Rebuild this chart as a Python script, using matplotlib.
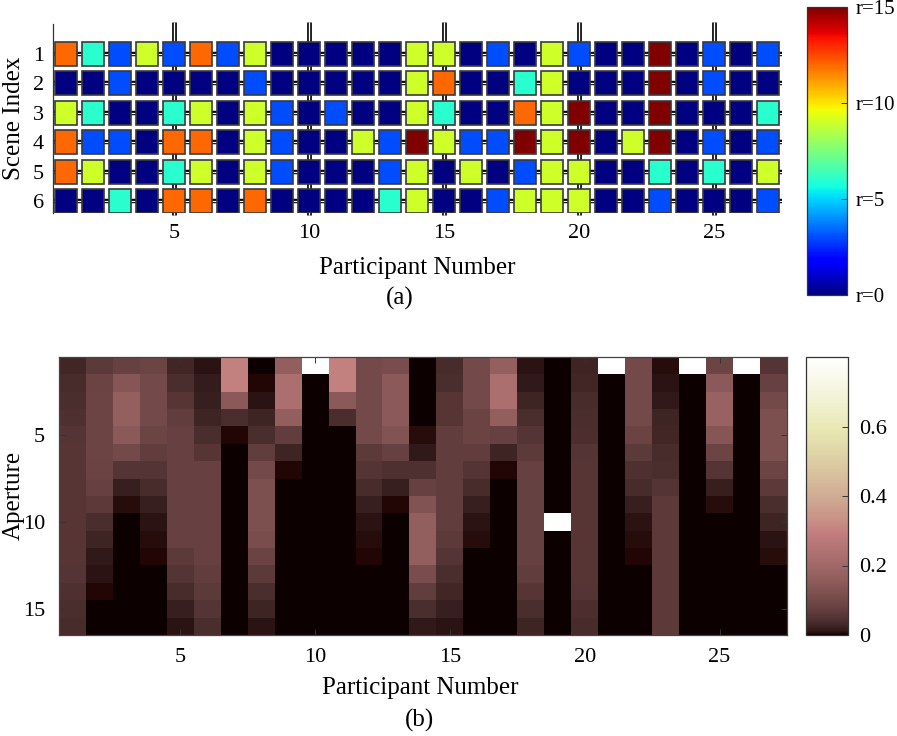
import matplotlib
matplotlib.use('Agg')
import matplotlib.pyplot as plt
import numpy as np
from matplotlib.patches import Rectangle
from matplotlib.colors import Normalize, ListedColormap
from matplotlib.cm import ScalarMappable

plt.rcParams['font.family'] = ['Liberation Serif', 'DejaVu Serif']

# ---------------- data ----------------
participants = list(range(1, 28))
scenes = [1, 2, 3, 4, 5, 6]
scene_r = [
    [12, 6, 3, 9, 3, 12, 3, 9, 0, 0, 0, 0, 0, 9, 9, 0, 3, 0, 9, 3, 0, 0, 15, 0, 3, 0, 3],
    [0, 0, 3, 0, 0, 0, 0, 3, 0, 0, 0, 0, 0, 9, 12, 0, 0, 6, 9, 0, 0, 0, 15, 0, 3, 0, 0],
    [9, 6, 0, 0, 6, 9, 0, 9, 3, 0, 3, 0, 0, 9, 6, 0, 0, 12, 9, 15, 0, 0, 15, 0, 0, 0, 6],
    [12, 3, 3, 0, 12, 12, 0, 9, 3, 0, 0, 9, 3, 15, 9, 3, 3, 15, 9, 15, 0, 9, 15, 0, 3, 0, 3],
    [12, 9, 0, 0, 6, 9, 0, 9, 3, 0, 0, 0, 3, 9, 0, 9, 0, 3, 9, 9, 0, 0, 6, 0, 6, 0, 9],
    [0, 0, 6, 0, 12, 12, 0, 12, 0, 0, 0, 0, 6, 9, 0, 0, 3, 9, 9, 9, 0, 0, 3, 0, 0, 0, 3],
]
r_ticks = [0, 5, 10, 15]
r_tick_labels = ['r=0', 'r=5', 'r=10', 'r=15']

apertures = list(range(1, 17))
Wt = 0.85  # saturated (white) cells
# one list per participant, aperture 1..16
aperture_by_participant = [
    [0.03, 0.035, 0.04, 0.045, 0.05, 0.055, 0.055, 0.055, 0.055, 0.055, 0.055, 0.055, 0.05, 0.045, 0.04, 0.035],
    [0.065, 0.085, 0.09, 0.09, 0.09, 0.09, 0.085, 0.08, 0.065, 0.04, 0.025, 0.015, 0.01, 0.005, 0, 0],
    [0.08, 0.14, 0.17, 0.17, 0.15, 0.10, 0.05, 0.02, 0.008, 0, 0, 0, 0, 0, 0, 0],
    [0.09, 0.10, 0.10, 0.10, 0.09, 0.07, 0.05, 0.035, 0.02, 0.012, 0.008, 0.005, 0, 0, 0, 0],
    [0.03, 0.04, 0.055, 0.07, 0.08, 0.08, 0.08, 0.08, 0.08, 0.08, 0.08, 0.065, 0.05, 0.035, 0.02, 0.012],
    [0.012, 0.016, 0.02, 0.028, 0.04, 0.055, 0.08, 0.08, 0.08, 0.08, 0.08, 0.08, 0.07, 0.065, 0.05, 0.04],
    [0.30, 0.30, 0.15, 0.04, 0.005, 0, 0, 0, 0, 0, 0, 0, 0, 0, 0, 0],
    [0, 0.005, 0.012, 0.025, 0.04, 0.07, 0.10, 0.12, 0.12, 0.12, 0.11, 0.085, 0.065, 0.04, 0.025, 0.01],
    [0.165, 0.23, 0.23, 0.165, 0.07, 0.025, 0.005, 0, 0, 0, 0, 0, 0, 0, 0, 0],
    [Wt, 0, 0, 0, 0, 0, 0, 0, 0, 0, 0, 0, 0, 0, 0, 0],
    [0.30, 0.30, 0.15, 0.04, 0.003, 0, 0, 0, 0, 0, 0, 0, 0, 0, 0, 0],
    [0.10, 0.10, 0.10, 0.10, 0.10, 0.065, 0.05, 0.035, 0.02, 0.012, 0.008, 0.005, 0, 0, 0, 0],
    [0.11, 0.15, 0.15, 0.15, 0.13, 0.08, 0.045, 0.02, 0.005, 0, 0, 0, 0, 0, 0, 0],
    [0, 0, 0, 0, 0.008, 0.015, 0.045, 0.08, 0.13, 0.165, 0.165, 0.165, 0.11, 0.07, 0.04, 0.015],
    [0.035, 0.04, 0.055, 0.055, 0.07, 0.07, 0.07, 0.07, 0.07, 0.07, 0.065, 0.05, 0.04, 0.03, 0.02, 0.012],
    [0.10, 0.10, 0.10, 0.085, 0.085, 0.07, 0.05, 0.035, 0.02, 0.012, 0.008, 0, 0, 0, 0, 0],
    [0.17, 0.23, 0.23, 0.165, 0.08, 0.025, 0.005, 0, 0, 0, 0, 0, 0, 0, 0, 0],
    [0.012, 0.015, 0.025, 0.04, 0.05, 0.065, 0.08, 0.08, 0.08, 0.08, 0.08, 0.08, 0.07, 0.055, 0.04, 0.025],
    [0, 0, 0, 0, 0, 0, 0, 0, 0, Wt, 0, 0, 0, 0, 0, 0],
    [0.025, 0.03, 0.035, 0.04, 0.042, 0.05, 0.055, 0.055, 0.055, 0.055, 0.055, 0.055, 0.055, 0.05, 0.042, 0.035],
    [Wt, 0, 0, 0, 0, 0, 0, 0, 0, 0, 0, 0, 0, 0, 0, 0],
    [0.10, 0.10, 0.10, 0.10, 0.085, 0.065, 0.045, 0.035, 0.02, 0.012, 0.008, 0.005, 0, 0, 0, 0],
    [0.008, 0.01, 0.015, 0.025, 0.03, 0.035, 0.04, 0.05, 0.065, 0.065, 0.065, 0.065, 0.065, 0.065, 0.065, 0.065],
    [Wt, 0, 0, 0, 0, 0, 0, 0, 0, 0, 0, 0, 0, 0, 0, 0],
    [0.09, 0.15, 0.18, 0.18, 0.14, 0.09, 0.05, 0.02, 0.008, 0, 0, 0, 0, 0, 0, 0],
    [Wt, 0, 0, 0, 0, 0, 0, 0, 0, 0, 0, 0, 0, 0, 0, 0],
    [0.05, 0.08, 0.10, 0.12, 0.12, 0.12, 0.09, 0.065, 0.04, 0.025, 0.012, 0.008, 0.003, 0, 0, 0],
]
x_ticks = [5, 10, 15, 20, 25]
y_ticks_b = [5, 10, 15]
cb2_ticks = [0, 0.2, 0.4, 0.6]

# ---------------- figure ----------------
FW, FH = 897, 736
fig = plt.figure(figsize=(FW / 100, FH / 100), dpi=100)


def rect(x0, y0, x1, y1):
    return [x0 / FW, 1 - y1 / FH, (x1 - x0) / FW, (y1 - y0) / FH]


TICK_FS = 16
CB_FS = 15
LAB_FS = 18

# ---- panel (a) ----
ax1 = fig.add_axes(rect(52.5, 24, 781.5, 213))
ax1.set_xlim(0.5, 27.5)
ax1.set_ylim(6.41, -0.02)
norm1 = Normalize(0, 15)
cmap1 = plt.get_cmap('jet')

for s in scenes:
    ax1.plot([0.5, 27.5], [s, s], color='black', lw=3.2, zorder=1,
             solid_capstyle='butt', clip_on=False)
    ax1.plot([0.5, 27.5], [s, s], color='white', lw=0.9, zorder=1.1,
             solid_capstyle='butt', clip_on=False)
for xv in x_ticks:
    ax1.plot([xv, xv], [-0.09, 6.48], color='black', lw=3.4, zorder=1.5,
             solid_capstyle='butt', clip_on=False)
    ax1.plot([xv, xv], [-0.09, 6.48], color='white', lw=1.0, zorder=1.6,
             solid_capstyle='butt', clip_on=False)

for i, s in enumerate(scenes):
    for j, p in enumerate(participants):
        ax1.add_patch(Rectangle((p - 0.41, s - 0.41), 0.82, 0.82,
                                facecolor=cmap1(norm1(scene_r[i][j])),
                                edgecolor='#3a3a3a', lw=1.2, zorder=3))

for sp in ['top', 'right', 'bottom']:
    ax1.spines[sp].set_visible(False)
ax1.spines['left'].set_color('#333333')
ax1.spines['left'].set_linewidth(0.9)
ax1.set_xticks(x_ticks)
ax1.set_yticks(scenes)
ax1.tick_params(axis='both', length=0, labelsize=TICK_FS)
ax1.tick_params(axis='x', pad=8)
ax1.tick_params(axis='y', pad=6)

cax1 = fig.add_axes(rect(807, 7, 847, 295))
cb1 = fig.colorbar(ScalarMappable(norm=norm1, cmap=cmap1), cax=cax1, ticks=r_ticks)
cb1.set_ticklabels(r_tick_labels)
cb1.ax.tick_params(direction='in', length=4, width=0.7, labelsize=CB_FS, pad=6, color='#333333')
cb1.outline.set_edgecolor('#333333')
cb1.outline.set_linewidth(0.9)

fig.text(417 / FW, 1 - 268 / FH, 'Participant Number', ha='center', va='center', fontsize=LAB_FS)
fig.text(400 / FW, 1 - 298 / FH, '(a)', ha='center', va='center', fontsize=LAB_FS)
fig.text(14 / FW, 1 - 118 / FH, 'Scene Index', ha='center', va='center', rotation=90, fontsize=LAB_FS)

# ---- panel (b) ----
pink_colors = plt.get_cmap('pink')(np.linspace(0, 1, 256))
pink_colors[0] = [0.05, 0.0, 0.0, 1.0]
cmap2 = ListedColormap(pink_colors)

ap = np.array(aperture_by_participant).T
ax2 = fig.add_axes(rect(59, 357, 787, 635))
im = ax2.imshow(ap, cmap=cmap2, vmin=0, vmax=0.8, aspect='auto',
                extent=(0.5, 27.5, 16.5, 0.5), interpolation='nearest')
ax2.set_xticks(x_ticks)
ax2.set_yticks(y_ticks_b)
ax2.tick_params(direction='in', top=True, right=True, length=4, width=0.7,
                color='#333333', labelsize=TICK_FS)
ax2.tick_params(axis='x', pad=9)
ax2.tick_params(axis='y', pad=10)
for sp in ax2.spines.values():
    sp.set_color('#444444')
    sp.set_linewidth(0.9)

cax2 = fig.add_axes(rect(806, 357, 848, 635))
cb2 = fig.colorbar(im, cax=cax2, ticks=cb2_ticks)
cb2.set_ticklabels(['0', '0.2', '0.4', '0.6'])
cb2.ax.tick_params(direction='in', length=4, width=0.7, labelsize=TICK_FS, pad=8, color='#333333')
cb2.outline.set_edgecolor('#333333')
cb2.outline.set_linewidth(0.9)

fig.text(420 / FW, 1 - 688 / FH, 'Participant Number', ha='center', va='center', fontsize=LAB_FS)
fig.text(419 / FW, 1 - 720 / FH, '(b)', ha='center', va='center', fontsize=LAB_FS)
fig.text(14 / FW, 1 - 495 / FH, 'Aperture', ha='center', va='center', rotation=90, fontsize=LAB_FS)

fig.savefig('out.png', dpi=100)
